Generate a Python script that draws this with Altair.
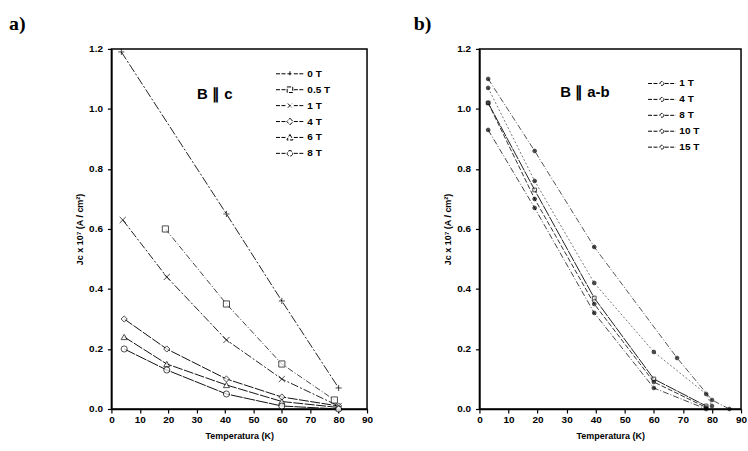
import altair as alt
import pandas as pd

# ---------- panel a): field parallel to c ----------
a_fields = ["0 T", "0.5 T", "1 T", "4 T", "6 T", "8 T"]
a_temp = [
    [3.5, 40.5, 60, 80],
    [19, 40.5, 60, 78.5],
    [4, 19.5, 40.5, 60, 80],
    [4.5, 19.5, 40.5, 60, 80],
    [4.5, 19.5, 40.5, 60, 80],
    [4.5, 19.5, 40.5, 60, 80],
]
a_jc = [
    [1.19, 0.65, 0.36, 0.07],
    [0.60, 0.35, 0.15, 0.03],
    [0.63, 0.44, 0.23, 0.10, 0.01],
    [0.30, 0.20, 0.10, 0.04, 0.01],
    [0.24, 0.15, 0.08, 0.025, 0.005],
    [0.20, 0.13, 0.05, 0.01, 0.0],
]

# ---------- panel b): field in the a-b plane ----------
b_fields = ["1 T", "4 T", "8 T", "10 T", "15 T"]
b_temp = [
    [3, 19, 39.5, 68, 80, 86],
    [3, 19, 39.5, 60, 78, 80],
    [3, 19, 39.5, 60, 78],
    [3, 19, 39.5, 60, 78],
    [3, 19, 39.5, 60, 78],
]
b_jc = [
    [1.10, 0.86, 0.54, 0.17, 0.03, 0.0],
    [1.07, 0.76, 0.42, 0.19, 0.05, 0.01],
    [1.02, 0.73, 0.37, 0.10, 0.01],
    [1.02, 0.70, 0.35, 0.09, 0.005],
    [0.93, 0.67, 0.32, 0.07, 0.0],
]

x_ticks = [0, 10, 20, 30, 40, 50, 60, 70, 80, 90]
y_ticks = [0.0, 0.2, 0.4, 0.6, 0.8, 1.0, 1.2]

FONT = "Liberation Sans"
Y_TITLE = "Jc x 10\u2077 (A / cm\u00b2)"


def long_table(fields, temps, jcs):
    rows = []
    for f, ts, js in zip(fields, temps, jcs):
        for t, j in zip(ts, js):
            rows.append({"field": f, "T": t, "Jc": j})
    return pd.DataFrame(rows)


# marker paths for the legend: a short line with the marker in the middle
LINE = "M-1,0H-0.28M0.28,0H1"
LEG_PLUS = LINE + "M-0.18,0H0.18M0,-0.18V0.18"
LEG_SQUARE = LINE + "M-0.2,-0.2H0.2V0.2H-0.2Z"
LEG_X = LINE + "M-0.15,-0.15L0.15,0.15M-0.15,0.15L0.15,-0.15"
LEG_DIAMOND = LINE + "M0,-0.24L0.22,0L0,0.24L-0.22,0Z"
LEG_TRI = LINE + "M0,-0.22L0.22,0.18H-0.22Z"
LEG_CIRCLE = LINE + "M0.2,0A0.2,0.2,0,1,1,-0.2,0A0.2,0.2,0,1,1,0.2,0Z"
LEG_DOT = "M-1,0H-0.2M0.2,0H1M0.14,0A0.14,0.14,0,1,1,-0.14,0A0.14,0.14,0,1,1,0.14,0Z"


def panel(fields, temps, jcs, *, width, height, label, label_dx, tag, tag_x, tag_y,
          point_shapes, point_size, point_fill, legend_shapes, legend_fill,
          dashes, colors, leg_x, leg_y, row_h):
    df = long_table(fields, temps, jcs)

    x = alt.X("T:Q", scale=alt.Scale(domain=[0, 90], nice=False),
              axis=alt.Axis(values=x_ticks, tickCount=10, title="Temperatura (K)",
                            titlePadding=7, labelOverlap=False, labelFlush=False))
    y = alt.Y("Jc:Q", scale=alt.Scale(domain=[0, 1.2], nice=False),
              axis=alt.Axis(values=y_ticks, format=".1f", title=Y_TITLE,
                            labelPadding=5, titlePadding=4, labelOverlap=False,
                            labelFlush=False))

    lines = alt.Chart(df).mark_line(strokeWidth=1).encode(
        x=x, y=y,
        color=alt.Color("field:N", scale=alt.Scale(domain=fields, range=colors), legend=None),
        strokeDash=alt.StrokeDash("field:N", scale=alt.Scale(domain=fields, range=dashes),
                                  legend=None),
    )

    points = alt.Chart(df).mark_point(filled=True, strokeWidth=1, stroke="black",
                                      size=point_size).encode(
        x=x, y=y,
        shape=alt.Shape("field:N", scale=alt.Scale(domain=fields, range=point_shapes),
                        legend=None),
        fill=alt.Fill("field:N", scale=alt.Scale(domain=fields, range=point_fill),
                      legend=None),
    )

    legend_layer = alt.Chart(df).mark_point(opacity=0, filled=False).encode(
        x=x, y=y,
        shape=alt.Shape("field:N", scale=alt.Scale(domain=fields, range=legend_shapes),
                        legend=alt.Legend(
                            title=None, orient="none", legendX=leg_x, legendY=leg_y,
                            padding=0, labelOffset=3, labelFont=FONT, labelFontSize=10,
                            labelFontWeight="bold", labelColor="black",
                            symbolSize=784, symbolStrokeColor="black",
                            symbolFillColor=legend_fill, symbolStrokeWidth=1,
                            symbolDash=[4, 1.5], symbolOpacity=1,
                            clipHeight=row_h, rowPadding=0)),
    )

    tag_df = pd.DataFrame({"T": [tag_x], "Jc": [tag_y], "txt": [tag]})
    tag_text = alt.Chart(tag_df).mark_text(font=FONT, fontSize=15, fontWeight="bold",
                                           color="black").encode(
        x=x, y=y, text="txt:N")

    panel_label = alt.Chart(pd.DataFrame({"txt": [label]})).mark_text(
        font="Liberation Serif", fontSize=20, fontWeight="bold", align="left",
        baseline="alphabetic", color="black").encode(
        x=alt.value(label_dx), y=alt.value(-19), text="txt:N")

    return alt.layer(lines, points, legend_layer, tag_text, panel_label).resolve_scale(
        shape="independent", fill="independent", color="independent",
        strokeDash="independent").properties(width=width, height=height)


left = panel(
    a_fields, a_temp, a_jc, width=257, height=362, label="a)", label_dx=-103,
    tag="B \u2225 c", tag_x=36.4, tag_y=1.05,
    point_shapes=["M-1,0H1M0,-1V1", "square", "M-1,-1L1,1M-1,1L1,-1",
                  "diamond", "triangle-up", "circle"],
    point_size=38, point_fill=["white"] * 6,
    legend_shapes=[LEG_PLUS, LEG_SQUARE, LEG_X, LEG_DIAMOND, LEG_TRI, LEG_CIRCLE],
    legend_fill="transparent",
    dashes=[[9, 2, 2, 2], [6, 2, 1, 2], [8, 2, 2, 2], [10, 1.5], [10, 1.5], [12, 1]],
    colors=["#222", "#444", "#222", "#111", "#111", "#111"],
    leg_x=165, leg_y=17, row_h=16,
)

right = panel(
    b_fields, b_temp, b_jc, width=263, height=362, label="b)", label_dx=-66,
    tag="B \u2225 a-b", tag_x=36.3, tag_y=1.057,
    point_shapes=["circle", "circle", "square", "circle", "circle"],
    point_size=14, point_fill=["black", "black", "white", "black", "black"],
    legend_shapes=[LEG_DOT] * 5,
    legend_fill="black",
    dashes=[[6, 2, 1, 2], [2, 2], [12, 1], [5, 2], [6, 2, 1, 2]],
    colors=["#555", "#777", "#222", "#333", "#444"],
    leg_x=169, leg_y=27, row_h=15.5,
)

chart = alt.hconcat(left, right, spacing=113, bounds="flush").properties(
    padding={"left": 8, "top": 12, "right": 0, "bottom": 0},
    background="white",
).configure_view(
    stroke="black", strokeWidth=1.5
).configure_axis(
    domainColor="black", domainWidth=1.5, tickColor="black", tickWidth=1.2, tickSize=4,
    labelFont=FONT, labelFontWeight="bold", labelFontSize=10, labelColor="black",
    titleFont=FONT, titleFontWeight="bold", titleFontSize=9, titleColor="black",
    grid=False, labelOverlap=False,
)

chart.save("out.html", embed_options={"renderer": "svg", "actions": False})
